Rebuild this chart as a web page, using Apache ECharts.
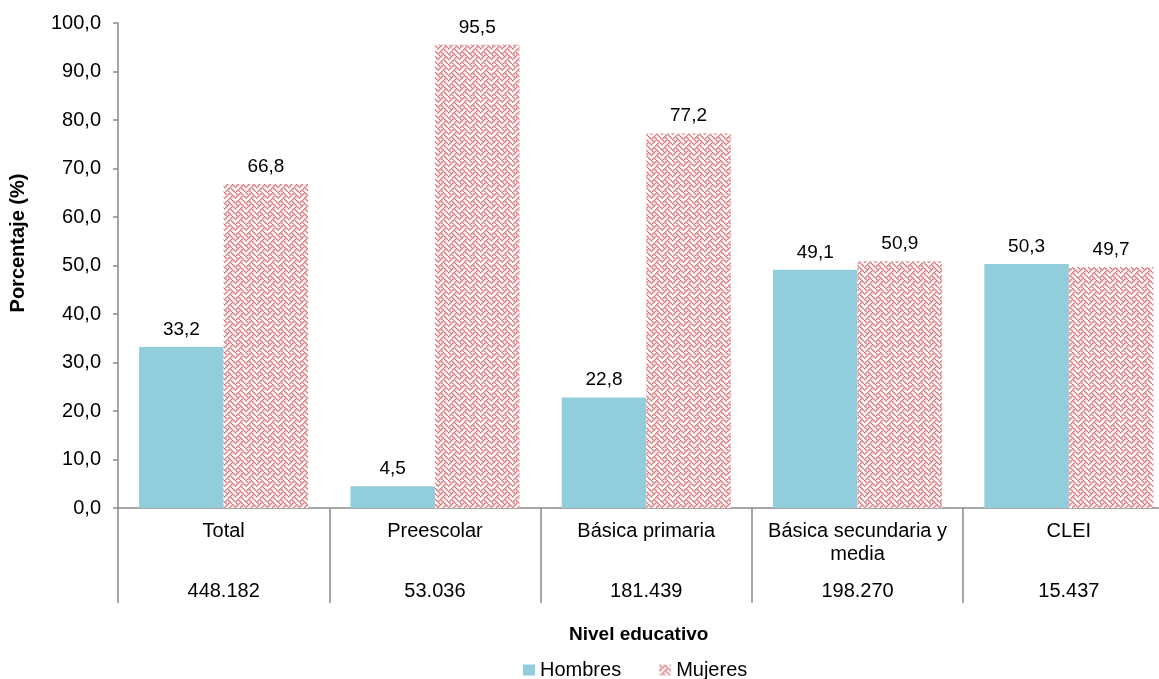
<!DOCTYPE html>
<html>
<head>
<meta charset="utf-8">
<script src="https://cdn.jsdelivr.net/npm/echarts@6/dist/echarts.min.js"></script>
<style>
html,body{margin:0;padding:0;background:#fff;}
#chart{width:1159px;height:679px;}
</style>
</head>
<body>
<div id="chart"></div>
<script>
var categories = ['Total', 'Preescolar', 'Básica primaria', 'Básica secundaria y\nmedia', 'CLEI'];
var totals = ['448.182', '53.036', '181.439', '198.270', '15.437'];
var hombres = [33.2, 4.5, 22.8, 49.1, 50.3];
var mujeres = [66.8, 95.5, 77.2, 50.9, 49.7];
var yTicks = [0, 10, 20, 30, 40, 50, 60, 70, 80, 90, 100];

var FONT = '"Liberation Sans", Arial, sans-serif';

function weavePattern() {
  var bits = [0x88, 0x54, 0x22, 0x45, 0x88, 0x14, 0x22, 0x51];
  var s = 4 / 3;
  var reps = 3;
  var size = Math.round(8 * s * reps);
  var c = document.createElement('canvas');
  c.width = size; c.height = size;
  var ctx = c.getContext('2d');
  ctx.fillStyle = '#ffffff';
  ctx.fillRect(0, 0, size, size);
  ctx.fillStyle = '#dc7275';
  for (var ry = 0; ry < reps; ry++) {
    for (var rx = 0; rx < reps; rx++) {
      for (var y = 0; y < 8; y++) {
        for (var x = 0; x < 8; x++) {
          if (bits[y] & (0x80 >> x)) {
            ctx.fillRect((rx * 8 + x) * s, (ry * 8 + y) * s, s * 1.2, s * 1.2);
          }
        }
      }
    }
  }
  return c;
}

function fmt(v) { return v.toFixed(1).replace('.', ','); }

var chart = echarts.init(document.getElementById('chart'), null, {renderer: 'canvas'});
var pattern = {image: weavePattern(), repeat: 'repeat'};

chart.setOption({
  animation: false,
  backgroundColor: '#ffffff',
  textStyle: {fontFamily: FONT},
  grid: {left: 118, top: 23, height: 485, width: 1056.5, containLabel: false, outerBoundsMode: 'none'},
  legend: {
    data: ['Hombres', 'Mujeres'],
    left: 518, top: 655,
    icon: 'rect',
    itemWidth: 12, itemHeight: 11, itemGap: 38,
    textStyle: {fontFamily: FONT, fontSize: 20, color: '#000'}
  },
  graphic: [{
    type: 'text', left: 569, top: 625,
    style: {text: 'Nivel educativo', font: 'bold 19px ' + FONT, fill: '#000'}
  }, {
    type: 'text', x: 18, y: 243, rotation: Math.PI / 2,
    style: {text: 'Porcentaje (%)', font: 'bold 20px ' + FONT, fill: '#000', align: 'center', verticalAlign: 'middle'}
  }],
  xAxis: [{
    type: 'category',
    data: categories,
    position: 'bottom',
    axisLine: {show: true, lineStyle: {color: '#898989', width: 1.5}},
    axisTick: {show: true, alignWithLabel: false, interval: 0, length: 95, lineStyle: {color: '#898989', width: 1.5}},
    axisLabel: {interval: 0, margin: 12, fontSize: 20, lineHeight: 23, color: '#000', fontFamily: FONT}
  }, {
    type: 'category',
    data: totals,
    position: 'bottom',
    axisLine: {show: false},
    axisTick: {show: false},
    axisLabel: {interval: 0, margin: 73, fontSize: 20, color: '#000', fontFamily: FONT}
  }],
  yAxis: {
    type: 'value',
    min: 0, max: 100, interval: 10,
    axisLine: {show: true, lineStyle: {color: '#898989', width: 1.5}},
    axisTick: {show: true, length: 5, lineStyle: {color: '#898989', width: 1.5}},
    splitLine: {show: false},
    axisLabel: {
      margin: 17, fontSize: 20, color: '#000', fontFamily: FONT,
      formatter: function (v) { return yTicks.indexOf(v) >= 0 ? fmt(v) : ''; }
    }
  },
  series: [{
    name: 'Hombres',
    type: 'bar',
    data: hombres,
    barGap: '0%',
    barCategoryGap: '20%',
    itemStyle: {color: '#92cddc'},
    label: {show: true, position: 'top', distance: 8, fontSize: 19, color: '#000', fontFamily: FONT,
      formatter: function (p) { return fmt(p.value); }}
  }, {
    name: 'Mujeres',
    type: 'bar',
    data: mujeres,
    barGap: '0%',
    barCategoryGap: '20%',
    itemStyle: {color: pattern},
    label: {show: true, position: 'top', distance: 8, fontSize: 19, color: '#000', fontFamily: FONT,
      formatter: function (p) { return fmt(p.value); }}
  }]
});
</script>
</body>
</html>
